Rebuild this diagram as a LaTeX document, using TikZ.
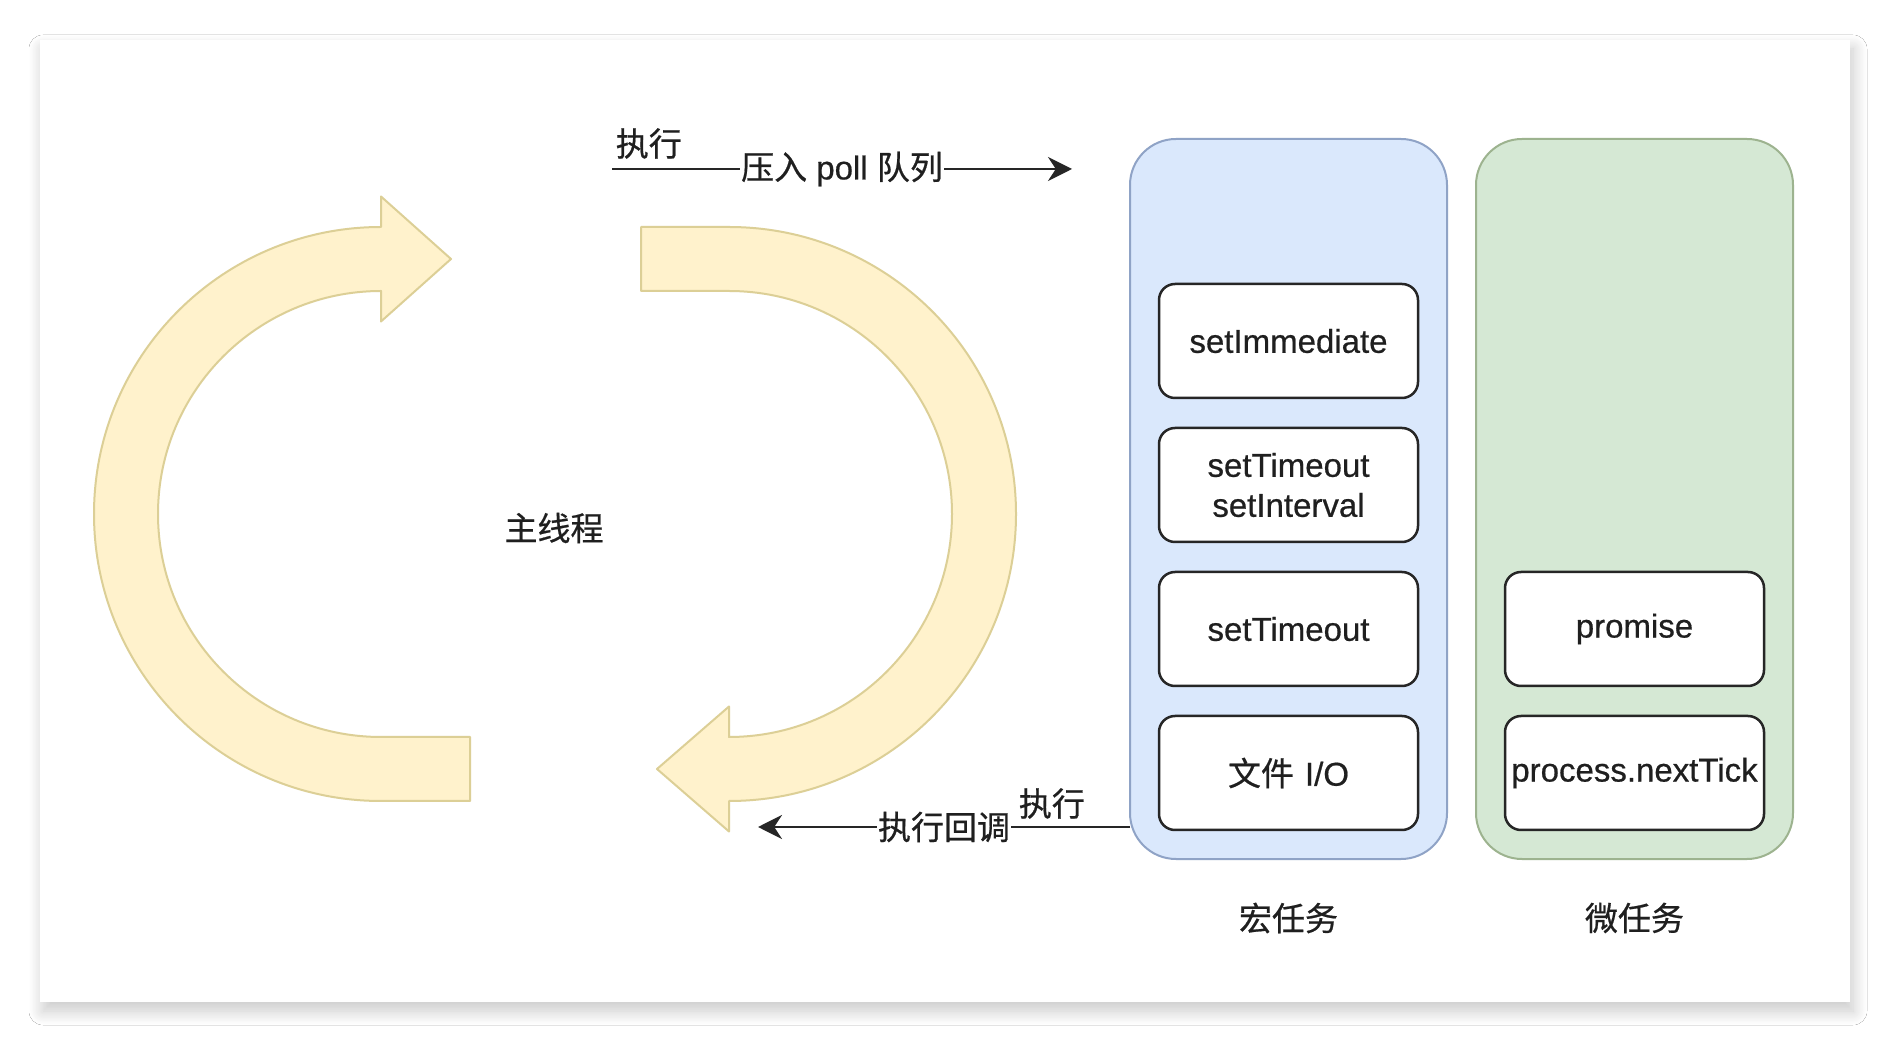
\documentclass[tikz,border=0pt]{standalone}
\usepackage{fontspec}
\setmainfont{Liberation Sans}[FakeBold=0.6]
\newfontfamily\cjk{Noto Sans CJK SC}[FakeBold=0.6]
\usetikzlibrary{arrows.meta,positioning,shadows.blur}
\usepackage{xcolor}
\definecolor{loopfill}{HTML}{FFF2CC}
\definecolor{loopline}{HTML}{DCCF96}
\definecolor{macrofill}{HTML}{DAE8FC}
\definecolor{macroline}{HTML}{8FA3C6}
\definecolor{microfill}{HTML}{D5E8D4}
\definecolor{microline}{HTML}{9DB38F}

\begin{document}
\begin{tikzpicture}[x=1pt, y=1pt,
    every node/.style={
        inner sep=0pt,
        text=black!88,
        font=\fontsize{33}{40}\selectfont
    },
    task/.style={
        rectangle,
        rounded corners=16pt,
        draw=black!85,
        line width=2.5pt,
        fill=white,
        align=center,
        text width=259pt,
        minimum height=114pt
    },
    queue/.style={
        rectangle,
        rounded corners=46pt,
        line width=2pt,
        minimum width=317pt,
        minimum height=720pt
    },
    loop/.style={fill=loopfill, draw=loopline, line width=2pt, line join=round},
    flow/.style={-{Stealth[length=24pt, width=24pt]}, line width=2.5pt, black!85}
]
    \useasboundingbox (0, 0) rectangle (1890, 1042);
    \fill[white] (0, 0) rectangle (1890, 1042);
    \path[fill=white, blur shadow={shadow xshift=3pt, shadow yshift=-9pt,
        shadow blur radius=14pt, shadow blur steps=24, shadow opacity=22}] (40, 40) rectangle (1850, 1002);

    % event loop
    \draw[loop] (470, 241) -- (381, 241) arc[start angle=270, end angle=90, radius=287]
        -- (381, 845.5) -- (451, 783) -- (381, 720.5) -- (381, 751)
        arc[start angle=90, end angle=270, radius=223] -- (470, 305) -- cycle;
    \draw[loop] (641, 815) -- (729, 815) arc[start angle=90, end angle=-90, radius=287]
        -- (729, 210.5) -- (657, 273) -- (729, 335.5) -- (729, 305)
        arc[start angle=-90, end angle=90, radius=223] -- (641, 751) -- cycle;
    \node (main_thread) [shift={(554, 514)}]
    {
        \cjk 主线程
    };

    % queues
    \node (macro_queue) [queue, fill=macrofill, draw=macroline, shift={(1288.5, 543)}] {};
    \node (micro_queue) [queue, fill=microfill, draw=microline, shift={(1634.5, 543)}] {};
    \node (set_immediate) [task, shift={(1288.5, 701)}]
    {
        setImmediate
    };
    \node (set_interval) [task, shift={(1288.5, 557)}]
    {
        setTimeout\\setInterval
    };
    \node (set_timeout) [task, shift={(1288.5, 413)}]
    {
        setTimeout
    };
    \node (file_io) [task, shift={(1288.5, 269)}]
    {
        {\cjk 文件} I/O
    };
    \node (promise) [task, shift={(1634.5, 413)}]
    {
        promise
    };
    \node (next_tick) [task, shift={(1634.5, 269)}]
    {
        process.nextTick
    };
    \node (macro_label) [shift={(1288.5, 124)}]
    {
        \cjk 宏任务
    };
    \node (micro_label) [shift={(1634.5, 124)}]
    {
        \cjk 微任务
    };

    % arrows
    \coordinate (push_start) at (612, 873);
    \coordinate (push_end) at (1072, 873);
    \coordinate (callback_start) at (1130, 215);
    \coordinate (callback_end) at (758, 215);
    \draw[flow] (push_start) to
        node[fill=white, inner xsep=1pt, inner ysep=2pt] {{\cjk 压入} poll {\cjk 队列}}
        node[pos=0.08, above=9pt] {\cjk 执行} (push_end);
    \draw[flow] (callback_start) to
        node[fill=white, inner xsep=1pt, inner ysep=2pt] {\cjk 执行回调}
        node[pos=0.21, above=7pt] {\cjk 执行} (callback_end);
\end{tikzpicture}
\end{document}
